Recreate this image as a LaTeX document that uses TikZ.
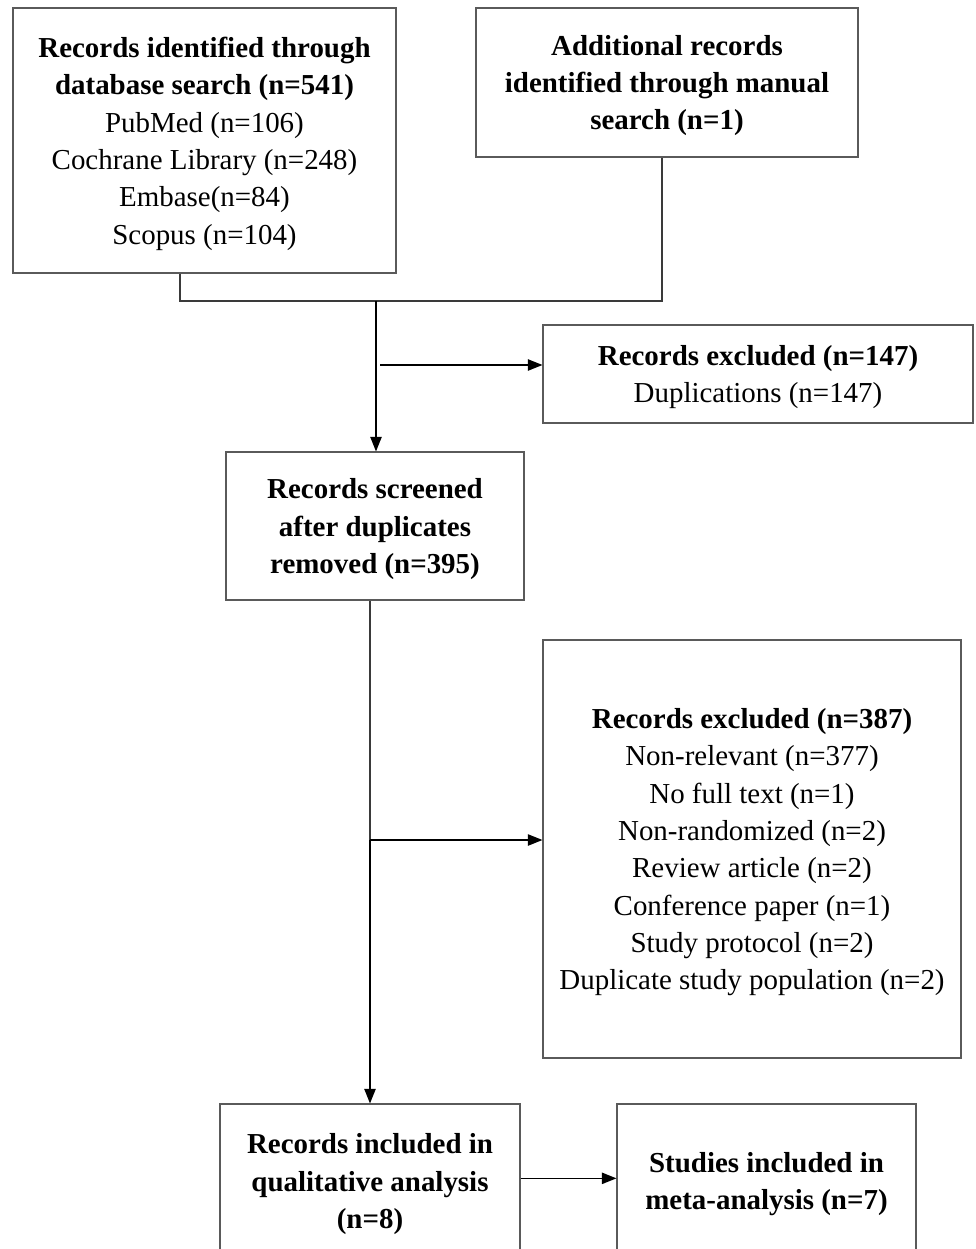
\documentclass[tikz,border=0pt]{standalone}
\usepackage{fontspec}
\setmainfont{Liberation Serif}
\usetikzlibrary{positioning,arrows.meta}
\definecolor{boxgray}{HTML}{5A5A5A}
\definecolor{linegray}{HTML}{3A3A3A}

\begin{document}
\begin{tikzpicture}[x=0.75pt,y=-0.75pt,
    box/.style={draw=boxgray,line width=0.8pt,align=center,inner sep=0pt,text depth=0pt,
      font=\fontsize{21.7}{28}\selectfont},
    joinline/.style={draw=linegray,line width=0.9pt},
    flowarrow/.style={draw=black,line width=1.2pt,arrows={-Triangle[length=11pt,width=8.5pt]}}]
    \useasboundingbox (0,0) rectangle (975,1249);
    \clip (0,0) rectangle (975,1249);
    % identification
    \node[box,minimum width=287.25pt,minimum height=198.75pt] (dbase) at (204.5,140.5)
      {\textbf{Records identified through}\\ \textbf{database search (n=541)}\\
       PubMed (n=106)\\ Cochrane Library (n=248)\\ Embase(n=84)\\ Scopus (n=104)};
    \node[box,minimum width=286.5pt,minimum height=111.75pt] (manual) at (667,82.5)
      {\textbf{Additional records}\\ \textbf{identified through manual}\\ \textbf{search (n=1)}};
    \coordinate (merge) at (376,301);
    \draw[joinline] ([xshift=-18.4pt]dbase.south) |- (merge) -| ([xshift=-3.75pt]manual.south);
    % screening
    \node[box,minimum width=322.5pt,minimum height=73.5pt] (dupl) at (758,374)
      {\textbf{Records excluded (n=147)}\\ Duplications (n=147)};
    \node[box,minimum width=223.5pt,minimum height=111pt] (screen) at (375,526)
      {\textbf{Records screened}\\ \textbf{after duplicates}\\ \textbf{removed (n=395)}};
    \coordinate (toDupl) at (380,365);
    \draw[flowarrow] (merge) -- (merge |- screen.north);
    \draw[flowarrow] (toDupl) -- (toDupl -| dupl.west);
    % eligibility
    \node[box,minimum width=313.5pt,minimum height=313.5pt] (excl) at (752,849)
      {\textbf{Records excluded (n=387)}\\ Non-relevant (n=377)\\ No full text (n=1)\\
       Non-randomized (n=2)\\ Review article (n=2)\\ Conference paper (n=1)\\
       Study protocol (n=2)\\ Duplicate study population (n=2)};
    % included
    \node[box,minimum width=225pt,minimum height=115.5pt] (qual) at (370,1181)
      {\textbf{Records included in}\\ \textbf{qualitative analysis}\\ \textbf{(n=8)}};
    \node[box,minimum width=224.25pt,minimum height=115.5pt] (meta) at (766.5,1181)
      {\textbf{Studies included in}\\ \textbf{meta-analysis (n=7)}};
    \coordinate (toExcl) at (370,840);
    \draw[linegray,line width=1pt] (qual.north |- screen.south) -- (toExcl);
    \draw[flowarrow] (toExcl) -- (qual.north);
    \draw[flowarrow] (toExcl) -- (toExcl -| excl.west);
    \draw[flowarrow] ([yshift=2pt]qual.east) -- ([yshift=2pt]meta.west);
  \end{tikzpicture}
\end{document}
